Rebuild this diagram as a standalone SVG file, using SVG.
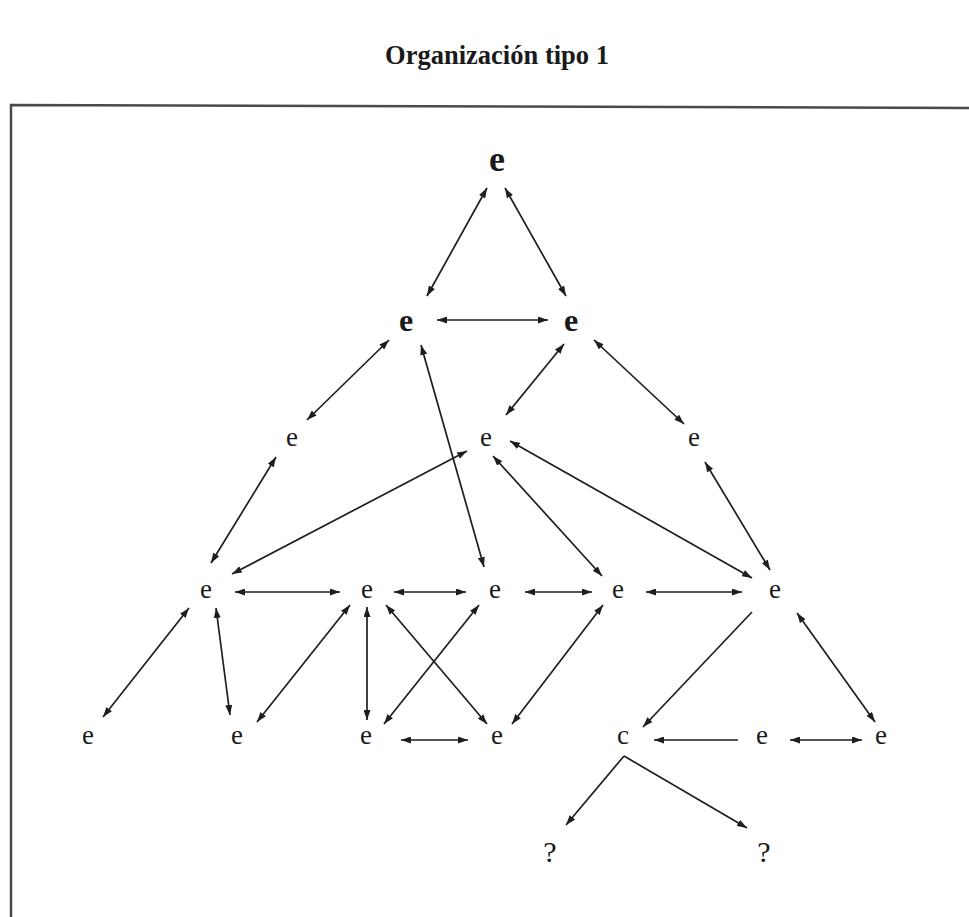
<svg xmlns="http://www.w3.org/2000/svg" width="969" height="917" viewBox="0 0 969 917">
<style>
.t{font-family:"Liberation Serif","Times New Roman",serif;fill:#1a1a1a;text-anchor:middle}
.b{font-weight:bold}
.n{font-size:27px}
.c line{stroke:#1e1e1e;stroke-width:1.7;fill:none}
.bi{marker-start:url(#ah);marker-end:url(#ah)}
.uni{marker-end:url(#ah)}
</style>
<defs>
<marker id="ah" viewBox="0 0 10 7" refX="10" refY="3.5" markerWidth="10" markerHeight="7" markerUnits="userSpaceOnUse" orient="auto-start-reverse">
<path d="M0,0 L10,3.5 L0,7 z" fill="#1e1e1e"/>
</marker>
</defs>
<rect width="969" height="917" fill="#fff"/>
<text class="t b" x="497" y="64" font-size="28" textLength="224" lengthAdjust="spacingAndGlyphs">Organización tipo 1</text>
<path d="M11,917 V105 L969,108" fill="none" stroke="#4a4a4a" stroke-width="2.5"/>

<g id="connectors" class="c">
<line class="bi" x1="487" y1="188" x2="427" y2="296"/>
<line class="bi" x1="505" y1="188" x2="566" y2="296"/>
<line class="bi" x1="437" y1="320" x2="548" y2="320"/>
<line class="bi" x1="389" y1="340" x2="307" y2="420"/>
<line class="bi" x1="421" y1="345" x2="484" y2="567"/>
<line class="bi" x1="564" y1="344" x2="506" y2="415"/>
<line class="bi" x1="594" y1="340" x2="684" y2="424"/>
<line class="bi" x1="276" y1="457" x2="211" y2="563"/>
<line class="bi" x1="467" y1="451" x2="232" y2="574"/>
<line class="bi" x1="493" y1="456" x2="602" y2="576"/>
<line class="bi" x1="510" y1="441" x2="752" y2="578"/>
<line class="bi" x1="705" y1="462" x2="770" y2="570"/>
<line class="bi" x1="235" y1="592" x2="340" y2="592"/>
<line class="bi" x1="394" y1="592" x2="466" y2="592"/>
<line class="bi" x1="525" y1="592" x2="592" y2="592"/>
<line class="bi" x1="646" y1="592" x2="742" y2="592"/>
<line class="bi" x1="189" y1="608" x2="103" y2="717"/>
<line class="bi" x1="216" y1="608" x2="230" y2="715"/>
<line class="bi" x1="350" y1="605" x2="257" y2="722"/>
<line class="bi" x1="367" y1="607" x2="367" y2="720"/>
<line class="bi" x1="386" y1="605" x2="487" y2="724"/>
<line class="bi" x1="479" y1="605" x2="384" y2="724"/>
<line class="bi" x1="603" y1="605" x2="512" y2="724"/>
<line class="uni" x1="752" y1="612" x2="643" y2="727"/>
<line class="bi" x1="797" y1="613" x2="875" y2="722"/>
<line class="bi" x1="401" y1="740" x2="468" y2="740"/>
<line class="uni" x1="738" y1="740" x2="654" y2="740"/>
<line class="bi" x1="790" y1="740" x2="862" y2="740"/>
<line class="uni" x1="624" y1="756" x2="566" y2="825"/>
<line class="uni" x1="624" y1="756" x2="747" y2="828"/>
</g>

<g id="n0"><text class="t b" x="497" y="171" font-size="36">e</text></g>
<g id="n1"><text class="t b" x="406" y="331" font-size="32">e</text></g>
<g id="n2"><text class="t b" x="571" y="331" font-size="32">e</text></g>
<g id="n3"><text class="t n" x="292" y="446">e</text></g>
<g id="n4"><text class="t n" x="486" y="446">e</text></g>
<g id="n5"><text class="t n" x="694" y="446">e</text></g>
<g id="n6"><text class="t n" x="206" y="598">e</text></g>
<g id="n7"><text class="t n" x="367" y="598">e</text></g>
<g id="n8"><text class="t n" x="495" y="598">e</text></g>
<g id="n9"><text class="t n" x="618" y="598">e</text></g>
<g id="n10"><text class="t n" x="775" y="598">e</text></g>
<g id="n11"><text class="t n" x="88" y="744">e</text></g>
<g id="n12"><text class="t n" x="237" y="744">e</text></g>
<g id="n13"><text class="t n" x="366" y="744">e</text></g>
<g id="n14"><text class="t n" x="497" y="744">e</text></g>
<g id="n15"><text class="t n" x="623" y="744">c</text></g>
<g id="n16"><text class="t n" x="762" y="744">e</text></g>
<g id="n17"><text class="t n" x="881" y="744">e</text></g>
<g id="n18"><text class="t" x="550" y="862" font-size="30">?</text></g>
<g id="n19"><text class="t" x="764" y="862" font-size="30">?</text></g>
</svg>
